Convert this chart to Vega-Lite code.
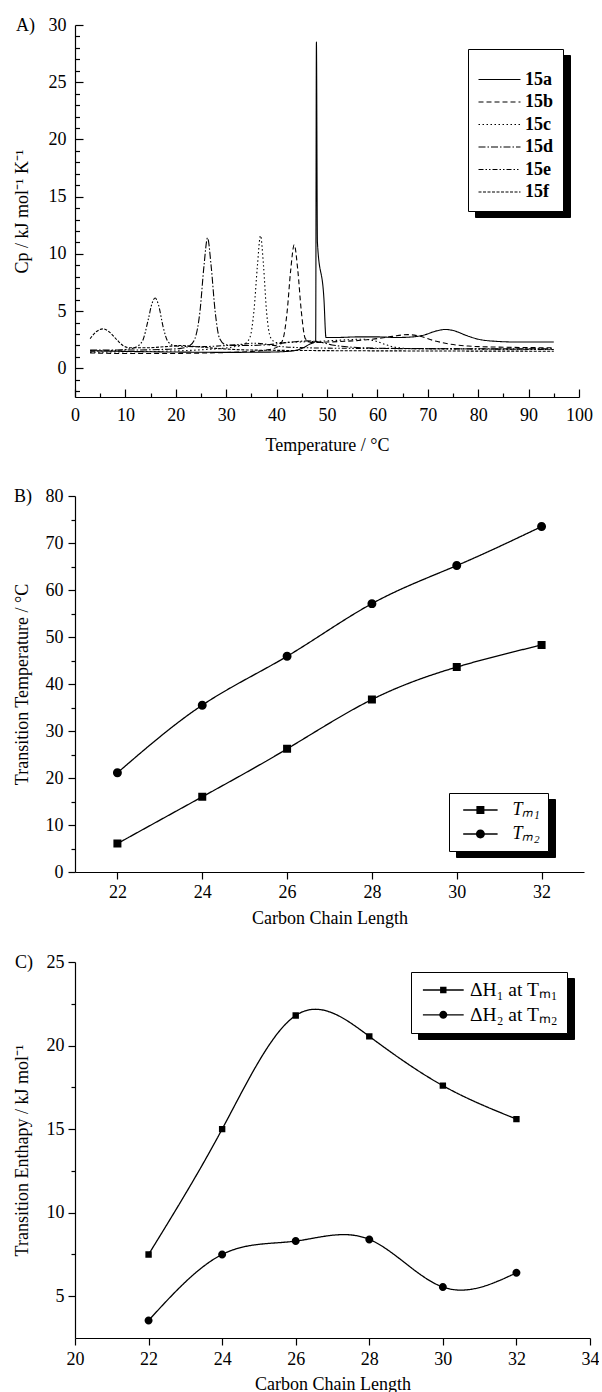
{
  "$schema": "https://vega.github.io/schema/vega-lite/v6.json",
  "background": "white",
  "padding": {"left": 13, "top": 16, "right": 0, "bottom": 0},
  "config": {
    "font": "Liberation Serif",
    "view": {"stroke": null},
    "style": {"guide-label": {"font": "Liberation Serif"}, "guide-title": {"font": "Liberation Serif"}},
    "axis": {"grid": false, "domainColor": "black", "tickColor": "black", "labelColor": "black", "titleColor": "black", "labelFont": "Liberation Serif", "titleFont": "Liberation Serif", "labelFontSize": 18, "titleFontSize": 18, "titleFontWeight": "normal", "domainWidth": 1.2, "tickWidth": 1.2, "labelFlush": false, "labelOverlap": false, "labelBound": false},
    "legend": {"labelFont": "Liberation Serif", "labelColor": "black", "labelFontSize": 18}
  },
  "resolve": {
    "scale": {"shape": "independent", "opacity": "independent", "strokeDash": "independent"},
    "legend": {"shape": "independent", "opacity": "independent", "strokeDash": "independent"}
  },
  "datasets": {
    "dsc": [
      {"s":"15a","T":3,"Cp":1.55},{"s":"15a","T":8,"Cp":1.5},{"s":"15a","T":15,"Cp":1.45},{"s":"15a","T":22,"Cp":1.42},{"s":"15a","T":30,"Cp":1.4},{"s":"15a","T":38,"Cp":1.42},{"s":"15a","T":42,"Cp":1.48},{"s":"15a","T":44,"Cp":1.6},{"s":"15a","T":45.5,"Cp":1.85},{"s":"15a","T":46.5,"Cp":2.1},{"s":"15a","T":47.3,"Cp":2.25},{"s":"15a","T":47.75,"Cp":2.35},{"s":"15a","T":47.9,"Cp":28.5},{"s":"15a","T":48.1,"Cp":11},{"s":"15a","T":49.4,"Cp":6},{"s":"15a","T":49.8,"Cp":2.7},{"s":"15a","T":52,"Cp":2.7},{"s":"15a","T":56,"Cp":2.75},{"s":"15a","T":60,"Cp":2.75},{"s":"15a","T":64,"Cp":2.7},{"s":"15a","T":67,"Cp":2.75},{"s":"15a","T":69.5,"Cp":2.95},{"s":"15a","T":71.5,"Cp":3.25},{"s":"15a","T":73.5,"Cp":3.4},{"s":"15a","T":75.5,"Cp":3.25},{"s":"15a","T":77.5,"Cp":2.9},{"s":"15a","T":80,"Cp":2.55},{"s":"15a","T":83,"Cp":2.38},{"s":"15a","T":88,"Cp":2.3},{"s":"15a","T":95,"Cp":2.3},
      {"s":"15b","T":3,"Cp":1.35},{"s":"15b","T":10,"Cp":1.3},{"s":"15b","T":18,"Cp":1.3},{"s":"15b","T":26,"Cp":1.35},{"s":"15b","T":34,"Cp":1.45},{"s":"15b","T":38,"Cp":1.6},{"s":"15b","T":40.3,"Cp":1.9},{"s":"15b","T":41.3,"Cp":2.6},{"s":"15b","T":42.1,"Cp":5},{"s":"15b","T":42.8,"Cp":8.6},{"s":"15b","T":43.5,"Cp":10.8},{"s":"15b","T":44.2,"Cp":8.6},{"s":"15b","T":44.9,"Cp":5},{"s":"15b","T":45.7,"Cp":2.6},{"s":"15b","T":47,"Cp":2.25},{"s":"15b","T":50,"Cp":2.3},{"s":"15b","T":55,"Cp":2.4},{"s":"15b","T":60,"Cp":2.6},{"s":"15b","T":63,"Cp":2.8},{"s":"15b","T":66,"Cp":2.95},{"s":"15b","T":68.5,"Cp":2.8},{"s":"15b","T":71,"Cp":2.45},{"s":"15b","T":74,"Cp":2.15},{"s":"15b","T":78,"Cp":1.95},{"s":"15b","T":85,"Cp":1.85},{"s":"15b","T":95,"Cp":1.8},
      {"s":"15c","T":3,"Cp":1.4},{"s":"15c","T":10,"Cp":1.45},{"s":"15c","T":18,"Cp":1.5},{"s":"15c","T":26,"Cp":1.65},{"s":"15c","T":31,"Cp":1.85},{"s":"15c","T":33.5,"Cp":2.1},{"s":"15c","T":34.7,"Cp":2.7},{"s":"15c","T":35.5,"Cp":5},{"s":"15c","T":36.2,"Cp":9},{"s":"15c","T":36.8,"Cp":11.6},{"s":"15c","T":37.4,"Cp":9},{"s":"15c","T":38,"Cp":5},{"s":"15c","T":38.8,"Cp":2.7},{"s":"15c","T":40,"Cp":2.25},{"s":"15c","T":44,"Cp":2.3},{"s":"15c","T":50,"Cp":2.4},{"s":"15c","T":54,"Cp":2.5},{"s":"15c","T":57,"Cp":2.55},{"s":"15c","T":59.5,"Cp":2.4},{"s":"15c","T":61.5,"Cp":2.1},{"s":"15c","T":63.5,"Cp":1.85},{"s":"15c","T":67,"Cp":1.72},{"s":"15c","T":75,"Cp":1.7},{"s":"15c","T":85,"Cp":1.68},{"s":"15c","T":95,"Cp":1.68},
      {"s":"15d","T":3,"Cp":1.6},{"s":"15d","T":10,"Cp":1.6},{"s":"15d","T":17,"Cp":1.65},{"s":"15d","T":21,"Cp":1.75},{"s":"15d","T":22.8,"Cp":2.0},{"s":"15d","T":23.8,"Cp":2.6},{"s":"15d","T":24.8,"Cp":5},{"s":"15d","T":25.6,"Cp":9},{"s":"15d","T":26.3,"Cp":11.4},{"s":"15d","T":27,"Cp":9},{"s":"15d","T":27.8,"Cp":5},{"s":"15d","T":28.7,"Cp":2.6},{"s":"15d","T":30,"Cp":2.05},{"s":"15d","T":34,"Cp":2.0},{"s":"15d","T":39,"Cp":2.1},{"s":"15d","T":43,"Cp":2.3},{"s":"15d","T":46,"Cp":2.4},{"s":"15d","T":48.5,"Cp":2.3},{"s":"15d","T":51,"Cp":2.05},{"s":"15d","T":55,"Cp":1.85},{"s":"15d","T":62,"Cp":1.75},{"s":"15d","T":75,"Cp":1.72},{"s":"15d","T":95,"Cp":1.7},
      {"s":"15e","T":3,"Cp":1.5},{"s":"15e","T":7,"Cp":1.55},{"s":"15e","T":10,"Cp":1.65},{"s":"15e","T":12,"Cp":1.85},{"s":"15e","T":13.4,"Cp":2.4},{"s":"15e","T":14.5,"Cp":4.2},{"s":"15e","T":15.3,"Cp":5.7},{"s":"15e","T":15.9,"Cp":6.15},{"s":"15e","T":16.6,"Cp":5.5},{"s":"15e","T":17.5,"Cp":3.6},{"s":"15e","T":18.5,"Cp":2.3},{"s":"15e","T":20,"Cp":1.95},{"s":"15e","T":25,"Cp":1.9},{"s":"15e","T":30,"Cp":2.0},{"s":"15e","T":33,"Cp":2.1},{"s":"15e","T":35.5,"Cp":2.2},{"s":"15e","T":38,"Cp":2.1},{"s":"15e","T":41,"Cp":1.9},{"s":"15e","T":46,"Cp":1.8},{"s":"15e","T":55,"Cp":1.75},{"s":"15e","T":70,"Cp":1.72},{"s":"15e","T":95,"Cp":1.65},
      {"s":"15f","T":3,"Cp":2.6},{"s":"15f","T":4.2,"Cp":3.2},{"s":"15f","T":5.6,"Cp":3.45},{"s":"15f","T":6.9,"Cp":3.15},{"s":"15f","T":8.3,"Cp":2.5},{"s":"15f","T":9.5,"Cp":2.0},{"s":"15f","T":10.8,"Cp":1.8},{"s":"15f","T":14,"Cp":1.8},{"s":"15f","T":18,"Cp":1.9},{"s":"15f","T":21,"Cp":2.0},{"s":"15f","T":24,"Cp":1.9},{"s":"15f","T":28,"Cp":1.75},{"s":"15f","T":35,"Cp":1.6},{"s":"15f","T":50,"Cp":1.55},{"s":"15f","T":70,"Cp":1.52},{"s":"15f","T":95,"Cp":1.5}
    ],
    "tm": [
      {"s":"Tₘ₁","n":22,"v":6.05},{"s":"Tₘ₁","n":24,"v":16.0},{"s":"Tₘ₁","n":26,"v":26.2},{"s":"Tₘ₁","n":28,"v":36.7},{"s":"Tₘ₁","n":30,"v":43.6},{"s":"Tₘ₁","n":32,"v":48.3},
      {"s":"Tₘ₂","n":22,"v":21.1},{"s":"Tₘ₂","n":24,"v":35.5},{"s":"Tₘ₂","n":26,"v":45.9},{"s":"Tₘ₂","n":28,"v":57.1},{"s":"Tₘ₂","n":30,"v":65.2},{"s":"Tₘ₂","n":32,"v":73.5}
    ],
    "dh": [
      {"s":"ΔH₁ at Tₘ₁","n":22,"v":7.5},{"s":"ΔH₁ at Tₘ₁","n":24,"v":15.0},{"s":"ΔH₁ at Tₘ₁","n":26,"v":21.8},{"s":"ΔH₁ at Tₘ₁","n":28,"v":20.55},{"s":"ΔH₁ at Tₘ₁","n":30,"v":17.6},{"s":"ΔH₁ at Tₘ₁","n":32,"v":15.6},
      {"s":"ΔH₂ at Tₘ₂","n":22,"v":3.55},{"s":"ΔH₂ at Tₘ₂","n":24,"v":7.5},{"s":"ΔH₂ at Tₘ₂","n":26,"v":8.3},{"s":"ΔH₂ at Tₘ₂","n":28,"v":8.4},{"s":"ΔH₂ at Tₘ₂","n":30,"v":5.55},{"s":"ΔH₂ at Tₘ₂","n":32,"v":6.4}
    ]
  },
  "bounds": "flush",
  "spacing": 99,
  "vconcat": [
    {
      "width": 504,
      "height": 372,
      "data": {"name": "dsc"},
      "mark": {"type": "line", "interpolate": "monotone", "color": "black", "strokeWidth": 1.1},
      "encoding": {
        "x": {"field": "T", "type": "quantitative", "scale": {"domain": [0, 100], "nice": false, "zero": false},
          "axis": {"title": "Temperature / °C", "values": [0,5,10,15,20,25,30,35,40,45,50,55,60,65,70,75,80,85,90,95,100],
            "labelFont": "Liberation Serif", "titleFont": "Liberation Serif",
            "labelExpr": "datum.value % 10 === 0 ? datum.label : ''",
            "tickSize": {"condition": {"test": "datum.value % 10 === 0", "value": -8}, "value": -4},
            "labelPadding": 26, "labelBaseline": "middle", "titleY": 48, "titleBaseline": "middle"}},
        "y": {"field": "Cp", "type": "quantitative", "scale": {"domain": [-2.5, 30], "nice": false, "zero": false},
          "axis": {"title": "Cp / kJ mol⁻¹ K⁻¹", "values": [-2,-1,0,1,2,3,4,5,6,7,8,9,10,11,12,13,14,15,16,17,18,19,20,21,22,23,24,25,26,27,28,29,30],
            "labelFont": "Liberation Serif", "titleFont": "Liberation Serif",
            "labelExpr": "datum.value === 30 ? 'A)\u00a0\u00a0\u00a030' : (datum.value % 5 === 0 ? datum.label : '')",
            "tickSize": {"condition": {"test": "datum.value % 5 === 0", "value": -8}, "value": -4.5},
            "labelPadding": 17, "titleX": -53, "titleBaseline": "middle"}},
        "strokeDash": {"field": "s", "type": "nominal",
          "scale": {"domain": ["15a","15b","15c","15d","15e","15f"], "range": [[1,0],[5,3],[1.5,2.5],[7,2,1.5,2],[5,2,1.5,2,1.5,2],[3,1.5]]},
          "legend": {"orient": "none", "legendX": 393, "legendY": 24, "title": " ", "titleFontSize": 1, "titlePadding": 8.5, "padding": 9.5,
            "symbolType": "M-2,0H2", "symbolSize": 441, "symbolOffset": 10.5, "symbolStrokeWidth": 1.1, "symbolStrokeColor": "black",
            "labelFont": "Liberation Serif", "labelFontWeight": "bold", "labelFontSize": 18, "labelOffset": 14, "rowPadding": 1.5,
            "strokeColor": "black", "fillColor": "white", "zindex": 2}},
        "opacity": {"field": "s", "type": "nominal", "scale": {"range": [1, 1]},
          "legend": {"orient": "none", "legendX": 400, "legendY": 30, "title": " ", "titleFontSize": 1, "titlePadding": 8.5, "padding": 9.5,
            "symbolType": "M-2,0H2", "symbolSize": 441, "symbolOffset": 10.5, "symbolStrokeWidth": 1.1, "symbolStrokeColor": "black",
            "labelFont": "Liberation Serif", "labelFontWeight": "bold", "labelFontSize": 18, "labelOffset": 14, "rowPadding": 1.5, "labelColor": "black",
            "strokeColor": "black", "fillColor": "black", "zindex": 1}}
      }
    },
    {
      "bounds": "flush",
      "spacing": 90,
      "resolve": {
        "scale": {"shape": "independent", "opacity": "independent", "strokeDash": "independent"},
        "legend": {"shape": "independent", "opacity": "independent", "strokeDash": "independent"}
      },
      "vconcat": [
        {
          "width": 509,
          "height": 376,
          "data": {"name": "tm"},
          "encoding": {
            "x": {"field": "n", "type": "quantitative", "scale": {"domain": [21, 33], "nice": false, "zero": false},
              "axis": {"title": "Carbon Chain Length", "values": [22,24,26,28,30,32], "tickSize": 7, "labelPadding": 13, "labelBaseline": "middle", "titleY": 46, "titleBaseline": "middle",
                "labelFont": "Liberation Serif", "titleFont": "Liberation Serif"}},
            "y": {"field": "v", "type": "quantitative", "scale": {"domain": [0, 80], "nice": false, "zero": false},
              "axis": {"title": "Transition Temperature / °C", "values": [0,5,10,15,20,25,30,35,40,45,50,55,60,65,70,75,80],
                "labelFont": "Liberation Serif", "titleFont": "Liberation Serif",
                "labelExpr": "datum.value === 80 ? 'B)\u00a0\u00a0\u00a080' : (datum.value % 10 === 0 ? datum.label : '')",
                "tickSize": {"condition": {"test": "datum.value % 10 === 0", "value": 7}, "value": 4},
                "labelPadding": 5, "titleX": -53, "titleBaseline": "middle"}}
          },
          "layer": [
            {"mark": {"type": "line", "interpolate": "natural", "color": "black", "strokeWidth": 1.3},
              "encoding": {
                "strokeDash": {"field": "s", "type": "nominal", "scale": {"range": [[1,0],[1,0]]},
                  "legend": {"orient": "none", "legendX": 374, "legendY": 297, "title": null, "padding": 8,
                    "symbolType": "M-4.3,0H4.3", "symbolSize": 64, "symbolOffset": 14.4, "labelOffset": 23, "rowPadding": 6,
                    "labelFontStyle": "italic", "labelFontSize": 18, "labelFont": "Liberation Serif", "labelExpr": "datum.label + '\u00a0\u00a0\u00a0\u00a0'",
                    "labelColor": "transparent", "symbolStrokeColor": "black", "symbolStrokeWidth": 1.3,
                    "strokeColor": "transparent", "fillColor": "transparent", "zindex": 3}}
              }},
            {"mark": {"type": "point", "filled": true, "color": "black", "opacity": 1, "size": 64},
              "encoding": {
                "shape": {"field": "s", "type": "nominal",
                  "scale": {"domain": ["Tₘ₁","Tₘ₂"], "range": ["M-4.3,0H4.3M-1,-1H1V1H-1Z", "M-4.3,0H4.3M1.12,0A1.12,1.12,0,1,1,-1.12,0A1.12,1.12,0,1,1,1.12,0Z"]},
                  "legend": {"orient": "none", "legendX": 374, "legendY": 297, "title": null, "padding": 8,
                    "symbolSize": 64, "symbolOffset": 14.4, "labelOffset": 23, "rowPadding": 6, "labelFontStyle": "italic", "labelFontSize": 18,
                    "symbolFillColor": "black",
                    "labelFont": "Liberation Serif", "labelExpr": "datum.label + '\u00a0\u00a0\u00a0\u00a0'",
                    "strokeColor": "black", "fillColor": "white", "zindex": 2}},
                "opacity": {"field": "s", "type": "nominal", "scale": {"domain": ["Tₘ₂","Tₘ₁"], "range": [1, 1]},
                  "legend": {"orient": "none", "legendX": 381, "legendY": 303, "title": null, "padding": 8,
                    "symbolType": "M-4.3,0H4.3M1.12,0A1.12,1.12,0,1,1,-1.12,0A1.12,1.12,0,1,1,1.12,0Z",
                    "symbolSize": 64, "symbolOffset": 14.4, "labelOffset": 23, "rowPadding": 6, "labelFontStyle": "italic", "labelFontSize": 18,
                    "labelFont": "Liberation Serif", "labelExpr": "datum.label + '\u00a0\u00a0\u00a0\u00a0'", "labelColor": "black",
                    "symbolFillColor": "black", "symbolStrokeColor": "black", "symbolStrokeWidth": 1.3,
                    "strokeColor": "black", "fillColor": "black", "zindex": 1}}
              }}
          ]
        },
        {
          "width": 515,
          "height": 376,
          "data": {"name": "dh"},
          "encoding": {
            "x": {"field": "n", "type": "quantitative", "scale": {"domain": [20, 34], "nice": false, "zero": false},
              "axis": {"title": "Carbon Chain Length", "values": [20,22,24,26,28,30,32,34], "tickSize": 7, "labelPadding": 14, "labelBaseline": "middle", "titleY": 46, "titleBaseline": "middle",
                "labelFont": "Liberation Serif", "titleFont": "Liberation Serif"}},
            "y": {"field": "v", "type": "quantitative", "scale": {"domain": [2.5, 25], "nice": false, "zero": false},
              "axis": {"title": "Transition Enthapy / kJ mol⁻¹", "values": [5,7.5,10,12.5,15,17.5,20,22.5,25],
                "labelFont": "Liberation Serif", "titleFont": "Liberation Serif",
                "labelExpr": "datum.value === 25 ? 'C)\u00a0\u00a0\u00a025' : (datum.value % 5 === 0 ? datum.label : '')",
                "tickSize": {"condition": {"test": "datum.value % 5 === 0", "value": 7}, "value": 4},
                "labelPadding": 4, "titleX": -53, "titleBaseline": "middle"}}
          },
          "layer": [
            {"mark": {"type": "line", "interpolate": "natural", "color": "black", "strokeWidth": 1.3},
              "encoding": {
                "strokeDash": {"field": "s", "type": "nominal", "scale": {"range": [[1,0],[1,0]]},
                  "legend": {"orient": "none", "legendX": 336, "legendY": 10, "title": null, "padding": 8.25,
                    "symbolType": "M-5.1,0H5.1", "symbolSize": 64, "symbolOffset": 14.3, "labelOffset": 17, "rowPadding": 3.8,
                    "labelFontSize": 19.5, "labelFont": "Liberation Serif", "labelExpr": "datum.label + '\u00a0\u00a0\u00a0'",
                    "labelColor": "transparent", "symbolStrokeColor": "black", "symbolStrokeWidth": 1.3,
                    "strokeColor": "transparent", "fillColor": "transparent", "zindex": 3}}
              }},
            {"mark": {"type": "point", "filled": true, "color": "black", "opacity": 1, "size": 64},
              "encoding": {
                "shape": {"field": "s", "type": "nominal",
                  "scale": {"domain": ["ΔH₁ at Tₘ₁","ΔH₂ at Tₘ₂"], "range": ["M-5.1,0H5.1M-0.8,-0.8H0.8V0.8H-0.8Z", "M-5.1,0H5.1M1,0A1,1,0,1,1,-1,0A1,1,0,1,1,1,0Z"]},
                  "legend": {"orient": "none", "legendX": 336, "legendY": 10, "title": null, "padding": 8.25,
                    "symbolSize": 64, "symbolOffset": 14.3, "labelOffset": 17, "rowPadding": 3.8, "labelFontSize": 19.5, "labelFont": "Liberation Serif",
                    "symbolFillColor": "black",
                    "labelExpr": "datum.label + '\u00a0\u00a0\u00a0'",
                    "strokeColor": "black", "fillColor": "white", "zindex": 2}},
                "opacity": {"field": "s", "type": "nominal", "scale": {"domain": ["ΔH₂ at Tₘ₂","ΔH₁ at Tₘ₁"], "range": [1, 1]},
                  "legend": {"orient": "none", "legendX": 343, "legendY": 16, "title": null, "padding": 8.25,
                    "symbolType": "M-5.1,0H5.1M1,0A1,1,0,1,1,-1,0A1,1,0,1,1,1,0Z",
                    "symbolSize": 64, "symbolOffset": 14.3, "labelOffset": 17, "rowPadding": 3.8, "labelFontSize": 19.5, "labelFont": "Liberation Serif",
                    "labelExpr": "datum.label + '\u00a0\u00a0\u00a0'", "labelColor": "black",
                    "symbolFillColor": "black", "symbolStrokeColor": "black", "symbolStrokeWidth": 1.3,
                    "strokeColor": "black", "fillColor": "black", "zindex": 1}}
              }}
          ]
        }
      ]
    }
  ]
}
